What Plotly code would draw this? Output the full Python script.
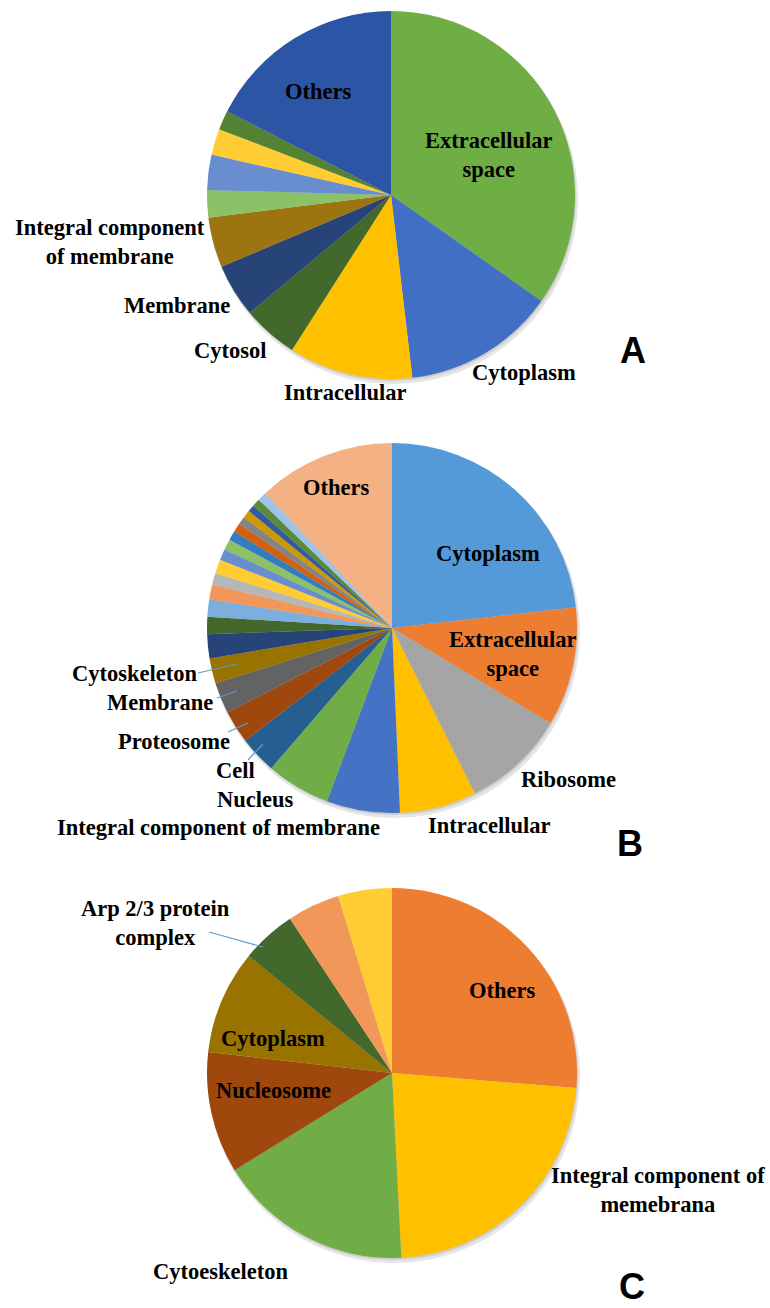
import plotly.graph_objects as go

W, H = 770, 1308

# ---------------- Data ----------------
a_labels = ["Extracellular space", "Cytoplasm", "Intracellular", "Cytosol", "Membrane",
            "Integral component of membrane", "Term A7", "Term A8", "Term A9", "Term A10", "Others"]
a_values = [34.8, 13.4, 10.9, 4.9, 4.7, 4.4, 2.4, 3.1, 2.3, 1.7, 17.5]
a_colors = ["#6FAE45", "#416FC6", "#FFC000", "#43682B", "#264478", "#9C7410",
            "#8CC168", "#698ED0", "#FFCD33", "#548235", "#2D55A6"]

b_labels = ["Cytoplasm", "Extracellular space", "Ribosome", "Intracellular",
            "Integral component of membrane", "Nucleus", "Cell", "Proteosome", "Membrane",
            "Cytoskeleton", "Term B11", "Term B12", "Term B13", "Term B14", "Term B15",
            "Term B16", "Term B17", "Term B18", "Term B19", "Term B20", "Term B21",
            "Term B22", "Term B23", "Term B24", "Term B25", "Others"]
b_values = [23.2, 10.4, 9.0, 6.7, 6.4, 5.6, 3.25, 2.9, 2.7, 2.2, 2.1, 1.5, 1.5, 1.3, 1.0,
            1.25, 0.95, 0.95, 0.8, 0.8, 0.67, 0.7, 0.6, 0.7, 0.8, 12.0]
b_colors = ["#559AD8", "#ED7D31", "#A5A5A5", "#FFC000", "#4472C4", "#70AD47", "#255E91",
            "#9E480E", "#636363", "#997300", "#264478", "#43682B", "#7CAFDD", "#F1975A",
            "#B7B7B7", "#FFCD33", "#698ED0", "#8CC168", "#327DC2", "#D26012", "#848484",
            "#CC9A00", "#335AA1", "#5A8A39", "#9DC3E6", "#F4B183"]

c_labels = ["Others", "Integral component of memebrana", "Cytoeskeleton", "Nucleosome",
            "Cytoplasm", "Arp 2/3 protein complex", "Term C7", "Term C8"]
c_values = [26.3, 22.9, 17.0, 10.6, 9.1, 4.8, 4.6, 4.7]
c_colors = ["#ED7D31", "#FFC000", "#70AD47", "#9E480E", "#997300", "#43682B",
            "#F1975A", "#FFCD33"]

# ---------------- Layout helpers ----------------
def dom(cx, cy, r, dx=0, dy=0):
    return dict(x=[(cx - r + dx) / W, (cx + r + dx) / W],
                y=[1 - (cy + r + dy) / H, 1 - (cy - r + dy) / H])

def px(x, y):
    return x / W, 1 - y / H

pies = [
    (a_labels, a_values, a_colors, (391, 195, 184)),
    (b_labels, b_values, b_colors, (392, 628, 185)),
    (c_labels, c_values, c_colors, (392, 1073, 185)),
]

fig = go.Figure()
for labels, values, colors, (cx, cy, r) in pies:
    # soft shadow
    fig.add_trace(go.Pie(values=[1], labels=["shadow"], marker=dict(colors=["rgba(0,0,0,0.10)"]),
                         domain=dom(cx, cy, r + 1, 2, 4), textinfo="none", hoverinfo="skip",
                         showlegend=False, sort=False))
    fig.add_trace(go.Pie(values=[1], labels=["shadow"], marker=dict(colors=["rgba(0,0,0,0.10)"]),
                         domain=dom(cx, cy, r, 1, 2), textinfo="none", hoverinfo="skip",
                         showlegend=False, sort=False))
    fig.add_trace(go.Pie(labels=labels, values=values, sort=False, direction="clockwise",
                         rotation=0, marker=dict(colors=colors, line=dict(width=0)),
                         textinfo="none", showlegend=False, domain=dom(cx, cy, r)))

SERIF = "Liberation Serif, Times New Roman, serif"
FS = 22.5

# label text with pixel anchor positions
label_pos = [
    ("Others", 318, 91), ("Extracellular<br>space", 488, 155), ("Cytoplasm", 524, 372),
    ("Intracellular", 345, 392), ("Cytosol", 230, 350), ("Membrane", 177, 305),
    ("Integral component<br>of membrane", 110, 242),
    ("Others", 336, 487), ("Cytoplasm", 488, 553), ("Extracellular<br>space", 512, 654),
    ("Ribosome", 568, 779), ("Intracellular", 489, 825), ("Cytoskeleton", 134, 673),
    ("Membrane", 160, 702), ("Proteosome", 174, 741), ("Cell", 235, 770),
    ("Nucleus", 255, 799), ("Integral component of membrane", 218, 827),
    ("Others", 502, 990), ("Integral component of<br>memebrana", 658, 1190),
    ("Cytoeskeleton", 220, 1271), ("Arp 2/3 protein<br>complex", 155, 923),
    ("Cytoplasm", 273, 1038), ("Nucleosome", 273, 1090),
]
annotations = []
for t, x, y in label_pos:
    xx, yy = px(x, y)
    annotations.append(dict(text="<b>" + t + "</b>", x=xx, y=yy, xref="paper", yref="paper",
                            xanchor="center", yanchor="middle", showarrow=False,
                            font=dict(family=SERIF, size=FS, color="#000000")))

LETTER_FONT = dict(family="Liberation Sans, Arial, sans-serif", size=36, color="#000000")
for t, x, y in [("A", 633, 350), ("B", 630, 843)]:
    xx, yy = px(x, y)
    annotations.append(dict(text="<b>" + t + "</b>", x=xx, y=yy, xref="paper", yref="paper",
                            xanchor="center", yanchor="middle", showarrow=False,
                            font=LETTER_FONT))
xx, _ = px(632, H)
annotations.append(dict(text="<b>C</b>", x=xx, y=0, xref="paper", yref="paper",
                        xanchor="center", yanchor="bottom", showarrow=False, borderpad=0,
                        font=LETTER_FONT))

leaders = [((198, 673), (237, 664)), ((217, 698), (237, 691)), ((228, 732), (248, 723)),
           ((248, 760), (263, 744)), ((209, 932), (263, 947))]
shapes = []
for (x0, y0), (x1, y1) in leaders:
    a0, b0 = px(x0, y0)
    a1, b1 = px(x1, y1)
    shapes.append(dict(type="line", xref="paper", yref="paper", x0=a0, y0=b0, x1=a1, y1=b1,
                       line=dict(color="#5B9BD5", width=1.2)))

fig.update_layout(width=W, height=H, margin=dict(l=0, r=0, t=0, b=0),
                  paper_bgcolor="white", plot_bgcolor="white",
                  annotations=annotations, shapes=shapes)

fig.write_html("out.html", config={"displayModeBar": False},
               post_script="document.body.style.margin='0px';")
